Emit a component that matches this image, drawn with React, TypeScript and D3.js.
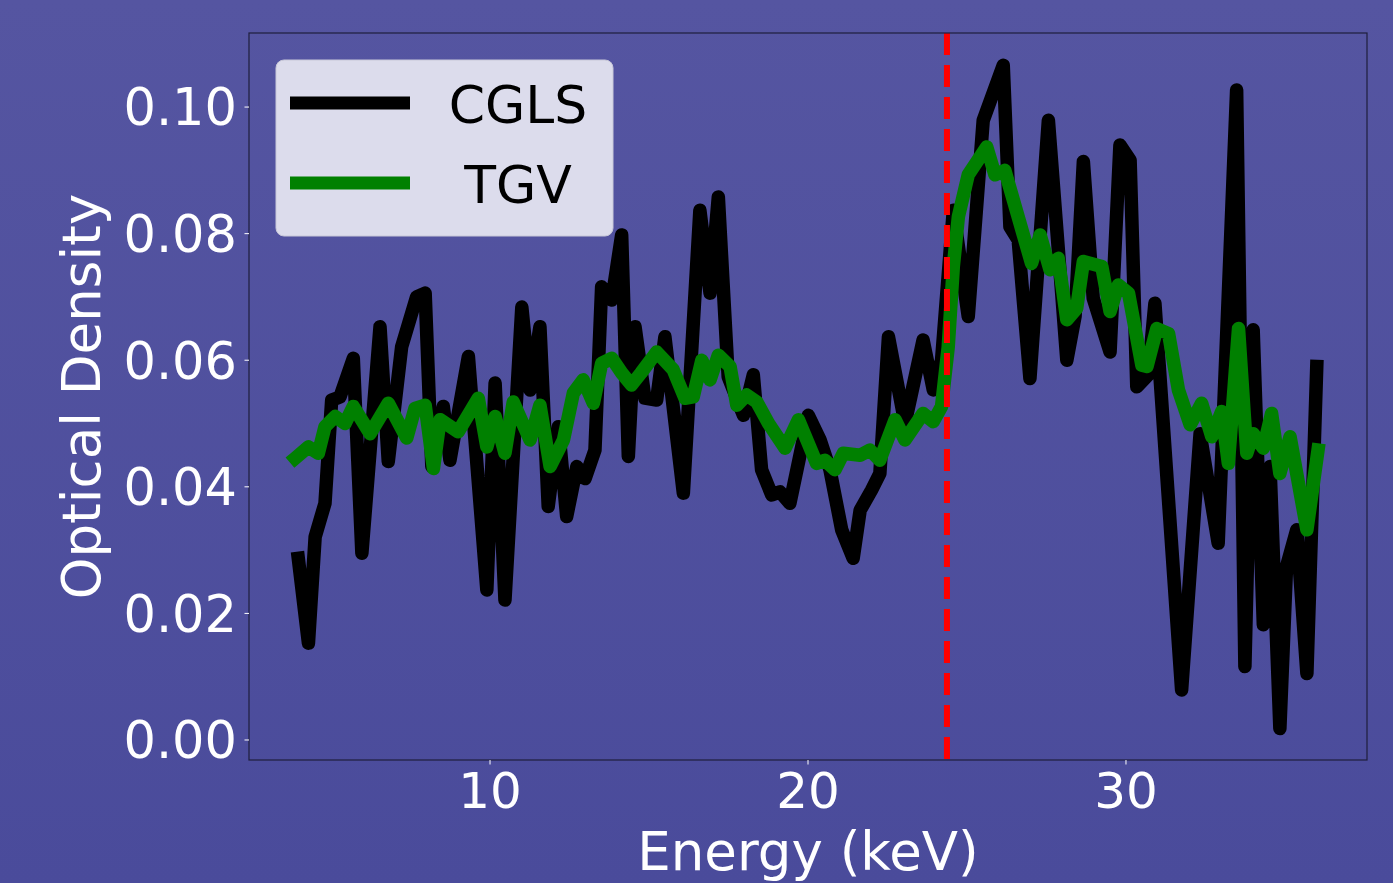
import React, { useEffect } from 'react';
import * as d3 from 'd3';

// CGLS reconstruction (energy in keV, optical density)
const cglsEnergy = [
  3.97, 4.29, 4.5, 4.81, 5.02, 5.28, 5.7, 5.97, 6.54, 6.8, 7.22, 7.69, 7.96, 8.17, 8.53, 8.74,
  9.32, 9.9, 10.16, 10.47, 11.0, 11.26, 11.57, 11.83, 12.15, 12.41, 12.73, 12.99, 13.3, 13.51,
  13.83, 14.14, 14.35, 14.56, 14.87, 15.24, 15.5, 16.08, 16.6, 16.92, 17.18, 17.49, 17.97, 18.28,
  18.54, 18.86, 19.12, 19.43, 20.01, 20.38, 20.69, 21.06, 21.42, 21.64, 22.0, 22.26, 22.53, 23.05,
  23.62, 23.94, 24.2, 24.57, 25.04, 25.51, 26.14, 26.35, 26.61, 26.98, 27.56, 28.14, 28.4, 28.66,
  28.97, 29.5, 29.81, 30.13, 30.34, 30.7, 30.91, 31.75, 32.33, 32.9, 33.48, 33.74, 34.0, 34.32,
  34.53, 34.84, 35.05, 35.37, 35.69, 36.0,
];
const cglsOD = [
  0.0287, 0.0153, 0.0321, 0.0374, 0.0537, 0.0542, 0.0603, 0.0295, 0.0653, 0.044, 0.0621, 0.07,
  0.0706, 0.0432, 0.0527, 0.0442, 0.0606, 0.0237, 0.0564, 0.0221, 0.0684, 0.0553, 0.0653, 0.0369,
  0.0495, 0.0353, 0.0432, 0.0413, 0.0458, 0.0716, 0.0695, 0.0798, 0.0448, 0.0653, 0.054, 0.0537,
  0.0637, 0.039, 0.0837, 0.0706, 0.0858, 0.0574, 0.0513, 0.0577, 0.0427, 0.0387, 0.0392, 0.0374,
  0.0513, 0.0474, 0.0427, 0.0332, 0.0287, 0.0363, 0.0395, 0.0421, 0.0637, 0.05, 0.0632, 0.0553,
  0.06, 0.0837, 0.0669, 0.0979, 0.1066, 0.0811, 0.079, 0.0571, 0.0979, 0.06, 0.067, 0.0914, 0.0698,
  0.0613, 0.094, 0.0916, 0.0558, 0.0577, 0.069, 0.0079, 0.0484, 0.0311, 0.1027, 0.0116, 0.0648,
  0.0182, 0.0432, 0.0018, 0.0274, 0.0332, 0.0105, 0.059,
];

// TGV reconstruction
const tgvEnergy = [
  3.87, 4.29, 4.6, 4.81, 5.13, 5.44, 5.7, 6.23, 6.8, 7.38, 7.64, 7.96, 8.22, 8.43, 9.0, 9.63, 9.9,
  10.16, 10.47, 10.73, 11.26, 11.57, 11.89, 12.31, 12.62, 12.93, 13.25, 13.51, 13.83, 14.14, 14.45,
  14.75, 15.24, 15.76, 16.13, 16.39, 16.66, 16.92, 17.18, 17.55, 17.76, 18.07, 18.39, 18.76, 19.28,
  19.7, 20.27, 20.53, 20.85, 21.11, 21.64, 21.95, 22.26, 22.74, 23.05, 23.62, 23.94, 24.2, 24.41,
  24.57, 24.73, 25.04, 25.62, 25.88, 26.19, 27.03, 27.3, 27.61, 27.87, 28.14, 28.45, 28.66, 29.24,
  29.5, 29.76, 30.08, 30.5, 30.66, 30.97, 31.34, 31.65, 32.02, 32.38, 32.7, 33.01, 33.22, 33.54,
  33.8, 34.0, 34.32, 34.58, 34.84, 35.16, 35.69, 36.04,
];
const tgvOD = [
  0.0445, 0.0463, 0.0453, 0.0495, 0.0511, 0.05, 0.0527, 0.0484, 0.0532, 0.0477, 0.0524, 0.0529,
  0.0429, 0.0506, 0.0487, 0.054, 0.0463, 0.0511, 0.0453, 0.0534, 0.0474, 0.0529, 0.0432, 0.0474,
  0.0548, 0.0569, 0.0532, 0.0595, 0.0603, 0.058, 0.0561, 0.058, 0.0613, 0.0585, 0.054, 0.0542,
  0.06, 0.0569, 0.0608, 0.059, 0.0529, 0.0545, 0.0534, 0.05, 0.0461, 0.0506, 0.0437, 0.0442,
  0.0427, 0.0453, 0.045, 0.0458, 0.0442, 0.0506, 0.0474, 0.0516, 0.0503, 0.0527, 0.0621, 0.0748,
  0.0827, 0.0893, 0.0937, 0.0893, 0.09, 0.0753, 0.0798, 0.0743, 0.0761, 0.0664, 0.0682, 0.0756,
  0.0748, 0.0677, 0.0719, 0.0706, 0.0592, 0.059, 0.065, 0.0642, 0.0553, 0.0498, 0.0532, 0.0479,
  0.0519, 0.0437, 0.065, 0.0453, 0.0484, 0.0461, 0.0516, 0.0421, 0.0479, 0.0332, 0.0458,
];

const xTicks = [10, 20, 30];
const yTicks = [0, 0.02, 0.04, 0.06, 0.08, 0.1];
const edgeEnergy = 24.37;
const legendItems = [
  { label: 'CGLS', color: '#000000' },
  { label: 'TGV', color: '#008000' },
];

const W = 1393;
const H = 883;
const FONT = '"DejaVu Sans", Verdana, sans-serif';

type Pt = [number, number];

const App = () => {
  useEffect(() => {
    document.body.style.margin = '0';
  }, []);

  // plot area in pixels
  const left = 249;
  const right = 1367;
  const top = 33;
  const bottom = 760;

  const x = d3.scaleLinear().domain([2.42, 37.58]).range([left, right]);
  const y = d3.scaleLinear().domain([-0.00316, 0.1117]).range([bottom, top]);

  const line = d3.line<Pt>()
    .x(d => x(d[0]))
    .y(d => y(d[1]));

  const cgls: Pt[] = cglsEnergy.map((e, i) => [e, cglsOD[i]]);
  const tgv: Pt[] = tgvEnergy.map((e, i) => [e, tgvOD[i]]);

  const fmtY = d3.format('.2f');

  return (
    <svg width={W} height={H} style={{ display: 'block' }} fontFamily={FONT}>
      <defs>
        <linearGradient id="bg" x1="0" y1="0" x2="0" y2="1">
          <stop offset="0%" stopColor="#5555a1" />
          <stop offset="100%" stopColor="#4a4b9b" />
        </linearGradient>
        <clipPath id="plot">
          <rect x={left} y={top} width={right - left} height={bottom - top} />
        </clipPath>
      </defs>
      <rect width={W} height={H} fill="url(#bg)" />

      {/* data lines */}
      <g clipPath="url(#plot)">
        <path d={line(cgls) || ''} fill="none" stroke="#000000" strokeWidth={13.5}
          strokeLinejoin="round" strokeLinecap="square" />
        <path d={line(tgv) || ''} fill="none" stroke="#008000" strokeWidth={13.5}
          strokeLinejoin="round" strokeLinecap="square" />
        <line x1={x(edgeEnergy)} x2={x(edgeEnergy)} y1={top} y2={bottom}
          stroke="#ff0000" strokeWidth={6} strokeDasharray="22 10" />
      </g>

      {/* frame */}
      <rect x={left} y={top} width={right - left} height={bottom - top}
        fill="none" stroke="#1e1e3c" strokeWidth={1.2} />

      {/* y axis */}
      {yTicks.map(t => (
        <g key={'y' + t}>
          <line x1={left - 4.5} x2={left} y1={y(t)} y2={y(t)} stroke="#ffffff" strokeWidth={1} />
          <text x={left - 12} y={y(t)} dy="0.36em" textAnchor="end" fill="#ffffff" fontSize={51}>
            {fmtY(t)}
          </text>
        </g>
      ))}

      {/* x axis */}
      {xTicks.map(t => (
        <g key={'x' + t}>
          <line x1={x(t)} x2={x(t)} y1={bottom} y2={bottom + 4.5} stroke="#ffffff" strokeWidth={1} />
          <text x={x(t)} y={808} textAnchor="middle" fill="#ffffff" fontSize={50}>
            {t}
          </text>
        </g>
      ))}

      <text x={(left + right) / 2} y={870} textAnchor="middle" fill="#ffffff" fontSize={53}>
        Energy (keV)
      </text>
      <text transform={`translate(100,${(top + bottom) / 2}) rotate(-90)`} textAnchor="middle"
        fill="#ffffff" fontSize={53}>
        Optical Density
      </text>

      {/* legend */}
      <g>
        <rect x={276} y={60} width={337} height={176} rx={8} ry={8}
          fill="#dcdcec" stroke="#c8c8d8" strokeWidth={1} />
        {legendItems.map((d, i) => (
          <g key={d.label}>
            <line x1={290} x2={410} y1={103 + i * 80} y2={103 + i * 80}
              stroke={d.color} strokeWidth={13} />
            <text x={518} y={123 + i * 80} textAnchor="middle" fill="#000000" fontSize={52}>
              {d.label}
            </text>
          </g>
        ))}
      </g>
    </svg>
  );
};

export default App;
